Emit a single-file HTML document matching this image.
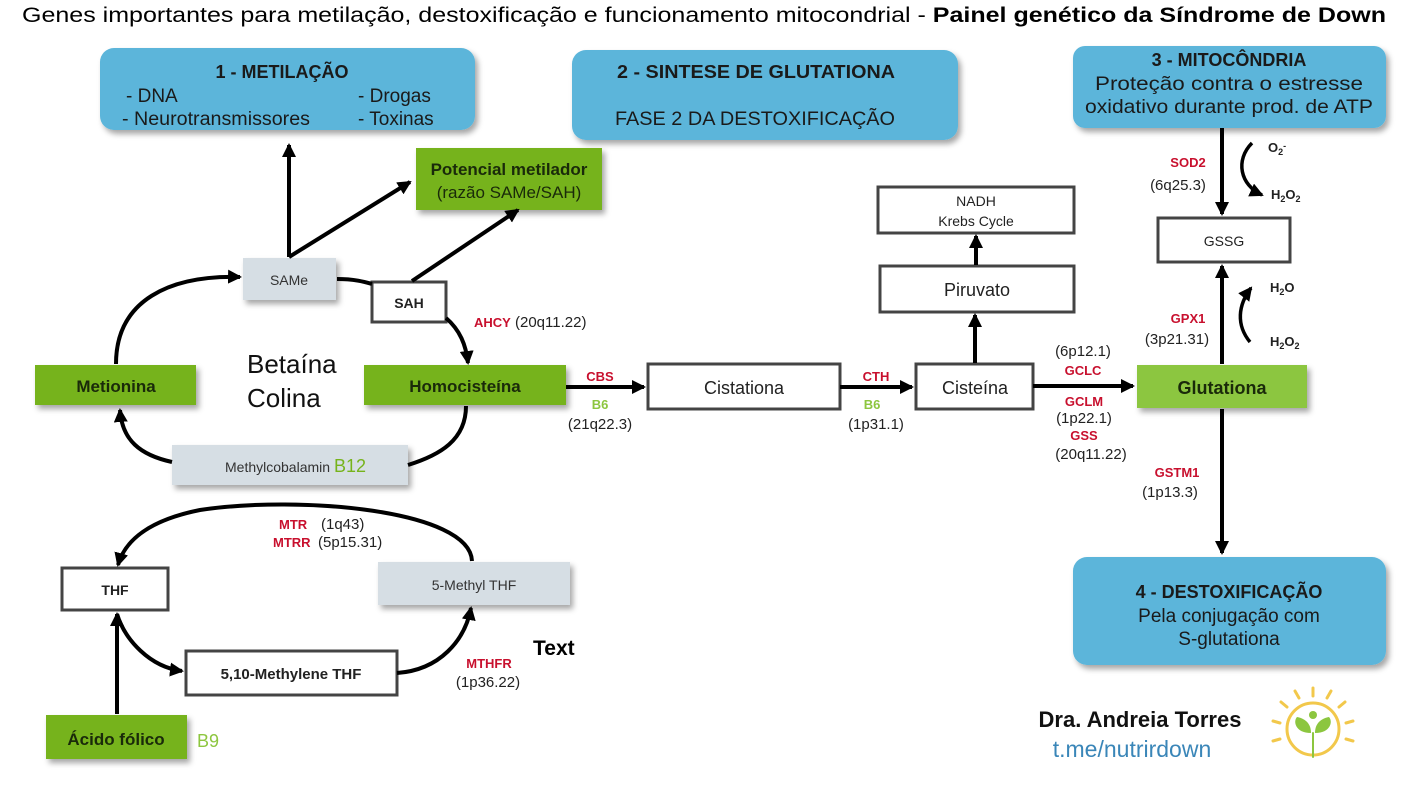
<!DOCTYPE html>
<html><head><meta charset="utf-8"><style>
html,body{margin:0;padding:0;background:#fff;}
svg{display:block;font-family:"Liberation Sans",sans-serif;}
.r{fill:#c8102e;font-weight:bold;font-size:13px;}
.g{fill:#8dc63f;font-weight:bold;font-size:13px;}
.k{fill:#222;font-size:15px;}
</style></head><body>
<svg width="1402" height="785" viewBox="0 0 1402 785" xmlns="http://www.w3.org/2000/svg">
<defs>
<marker id="b" markerWidth="14" markerHeight="14" refX="12" refY="7" orient="auto" markerUnits="userSpaceOnUse"><path d="M0,0 L14,7 L0,14 z" fill="#000"/></marker>
<filter id="s" x="-10%" y="-10%" width="130%" height="140%"><feDropShadow dx="3" dy="4" stdDeviation="3" flood-color="#000" flood-opacity="0.35"/></filter>
</defs>
<text x="22" y="22" font-size="21" fill="#000" textLength="1364" lengthAdjust="spacingAndGlyphs">Genes importantes para metilação, destoxificação e funcionamento mitocondrial - <tspan font-weight="bold">Painel genético da Síndrome de Down</tspan></text>

<g fill="#5bb5da" filter="url(#s)">
<rect x="100" y="48" width="375" height="82" rx="14"/>
<rect x="572" y="50" width="386" height="90" rx="14"/>
<rect x="1073" y="46" width="313" height="82" rx="12"/>
<rect x="1073" y="557" width="313" height="108" rx="14"/>
</g>
<g fill="#1a1a1a" font-size="19">
<text x="282" y="78" text-anchor="middle" font-weight="bold" font-size="18">1 - METILAÇÃO</text>
<text x="126" y="102">- DNA</text><text x="122" y="125" textLength="188" lengthAdjust="spacingAndGlyphs">- Neurotransmissores</text>
<text x="358" y="102">- Drogas</text><text x="358" y="125">- Toxinas</text>
<text x="756" y="78" text-anchor="middle" font-weight="bold" font-size="18" textLength="278" lengthAdjust="spacingAndGlyphs">2 - SINTESE DE GLUTATIONA</text>
<text x="755" y="125" text-anchor="middle" textLength="280" lengthAdjust="spacingAndGlyphs">FASE 2 DA DESTOXIFICAÇÃO</text>
<text x="1229" y="66" text-anchor="middle" font-weight="bold" font-size="18">3 - MITOCÔNDRIA</text>
<text x="1229" y="90" text-anchor="middle" textLength="268" lengthAdjust="spacingAndGlyphs">Proteção contra o estresse</text>
<text x="1229" y="113" text-anchor="middle" textLength="288" lengthAdjust="spacingAndGlyphs">oxidativo durante prod. de ATP</text>
<text x="1229" y="598" text-anchor="middle" font-weight="bold" font-size="18">4 - DESTOXIFICAÇÃO</text>
<text x="1229" y="622" text-anchor="middle">Pela conjugação com</text>
<text x="1229" y="645" text-anchor="middle">S-glutationa</text>
</g>

<g fill="#76b31b" filter="url(#s)">
<rect x="416" y="148" width="186" height="62"/>
<rect x="35" y="365" width="161" height="40"/>
<rect x="364" y="365" width="202" height="40"/>
<rect x="46" y="715" width="141" height="44"/>
</g>
<rect x="1137" y="365" width="170" height="43" fill="#8cc63f" filter="url(#s)"/>
<g fill="#1a2a0a" font-weight="bold" font-size="17" text-anchor="middle">
<text x="509" y="175">Potencial metilador</text>
<text x="509" y="198" font-weight="normal">(razão SAMe/SAH)</text>
<text x="116" y="392">Metionina</text>
<text x="465" y="392">Homocisteína</text>
<text x="116" y="745">Ácido fólico</text>
<text x="1222" y="394" font-size="18">Glutationa</text>
</g>

<g fill="#d6dee4" filter="url(#s)">
<rect x="243" y="258" width="93" height="42"/>
<rect x="172" y="445" width="236" height="40"/>
<rect x="378" y="562" width="192" height="43"/>
</g>
<text x="289" y="285" text-anchor="middle" font-size="14" fill="#333">SAMe</text>
<text x="225" y="472" font-size="14" fill="#333">Methylcobalamin <tspan fill="#76b31b" font-size="18">B12</tspan></text>
<text x="474" y="590" text-anchor="middle" font-size="14" fill="#333">5-Methyl THF</text>

<g fill="#fff" stroke="#444" stroke-width="3">
<rect x="372" y="282" width="74" height="40"/>
<rect x="648" y="364" width="192" height="45"/>
<rect x="916" y="364" width="117" height="45"/>
<rect x="880" y="266" width="194" height="46"/>
<rect x="878" y="187" width="196" height="46"/>
<rect x="1158" y="218" width="132" height="44"/>
<rect x="62" y="568" width="106" height="42"/>
<rect x="186" y="651" width="211" height="44"/>
</g>
<g fill="#222" text-anchor="middle">
<text x="409" y="308" font-size="14" font-weight="bold">SAH</text>
<text x="744" y="394" font-size="18">Cistationa</text>
<text x="975" y="394" font-size="18">Cisteína</text>
<text x="977" y="296" font-size="18">Piruvato</text>
<text x="976" y="206" font-size="14">NADH</text>
<text x="976" y="226" font-size="14">Krebs Cycle</text>
<text x="1224" y="246" font-size="14">GSSG</text>
<text x="115" y="595" font-size="14" font-weight="bold">THF</text>
<text x="291" y="679" font-size="15" font-weight="bold">5,10-Methylene THF</text>
</g>

<g stroke="#000" stroke-width="4" fill="none">
<line x1="289" y1="257" x2="289" y2="145" marker-end="url(#b)"/>
<line x1="289" y1="257" x2="410" y2="182" marker-end="url(#b)"/>
<line x1="412" y1="281" x2="518" y2="210" marker-end="url(#b)"/>
<path d="M116,364 C116,300 170,275 240,277" marker-end="url(#b)"/>
<path d="M337,279 C355,279 365,282 372,284"/>
<path d="M446,318 C460,330 466,345 468,363" marker-end="url(#b)"/>
<path d="M466,406 C466,440 440,455 408,465"/>
<path d="M172,462 C140,455 122,440 120,410" marker-end="url(#b)"/>
<line x1="566" y1="387" x2="644" y2="387" marker-end="url(#b)"/>
<line x1="840" y1="387" x2="912" y2="387" marker-end="url(#b)"/>
<line x1="975" y1="363" x2="975" y2="315" marker-end="url(#b)"/>
<line x1="976" y1="265" x2="976" y2="236" marker-end="url(#b)"/>
<line x1="1033" y1="386" x2="1133" y2="386" marker-end="url(#b)"/>
<line x1="1222" y1="128" x2="1222" y2="214" marker-end="url(#b)"/>
<line x1="1222" y1="364" x2="1222" y2="266" marker-end="url(#b)"/>
<line x1="1222" y1="409" x2="1222" y2="553" marker-end="url(#b)"/>
<path d="M1252,143 C1235,160 1240,185 1262,195" stroke-width="3.5" marker-end="url(#b)"/>
<path d="M1250,342 C1236,325 1238,305 1251,288" stroke-width="3.5" marker-end="url(#b)"/>
<path d="M472,561 C470,510 300,495 200,510 C150,520 125,540 118,565" marker-end="url(#b)"/>
<line x1="117" y1="714" x2="117" y2="614" marker-end="url(#b)"/>
<path d="M117,614 C125,640 150,667 182,671" marker-end="url(#b)"/>
<path d="M397,673 C440,670 465,640 471,608" marker-end="url(#b)"/>
</g>

<text x="247" y="373" font-size="26" fill="#111">Betaína</text>
<text x="247" y="407" font-size="26" fill="#111">Colina</text>
<text x="474" y="327" class="r">AHCY</text><text x="515" y="327" class="k">(20q11.22)</text>
<text x="600" y="381" class="r" text-anchor="middle">CBS</text>
<text x="600" y="409" class="g" text-anchor="middle">B6</text>
<text x="600" y="429" class="k" text-anchor="middle">(21q22.3)</text>
<text x="876" y="381" class="r" text-anchor="middle">CTH</text>
<text x="872" y="409" class="g" text-anchor="middle">B6</text>
<text x="876" y="429" class="k" text-anchor="middle">(1p31.1)</text>
<text x="1083" y="356" class="k" text-anchor="middle">(6p12.1)</text>
<text x="1083" y="375" class="r" text-anchor="middle">GCLC</text>
<text x="1084" y="406" class="r" text-anchor="middle">GCLM</text>
<text x="1084" y="423" class="k" text-anchor="middle">(1p22.1)</text>
<text x="1084" y="440" class="r" text-anchor="middle">GSS</text>
<text x="1091" y="459" class="k" text-anchor="middle">(20q11.22)</text>
<text x="1188" y="167" class="r" text-anchor="middle">SOD2</text>
<text x="1178" y="190" class="k" text-anchor="middle">(6q25.3)</text>
<text x="1188" y="323" class="r" text-anchor="middle">GPX1</text>
<text x="1177" y="344" class="k" text-anchor="middle">(3p21.31)</text>
<text x="1177" y="477" class="r" text-anchor="middle">GSTM1</text>
<text x="1170" y="497" class="k" text-anchor="middle">(1p13.3)</text>
<g font-size="13" font-weight="bold" fill="#222">
<text x="1268" y="152">O<tspan font-size="9" dy="3">2</tspan><tspan dy="-6" font-size="9">-</tspan></text>
<text x="1271" y="199">H<tspan font-size="9" dy="3">2</tspan><tspan dy="-3">O</tspan><tspan font-size="9" dy="3">2</tspan></text>
<text x="1270" y="292">H<tspan font-size="9" dy="3">2</tspan><tspan dy="-3">O</tspan></text>
<text x="1270" y="346">H<tspan font-size="9" dy="3">2</tspan><tspan dy="-3">O</tspan><tspan font-size="9" dy="3">2</tspan></text>
</g>
<text x="279" y="529" class="r">MTR</text><text x="321" y="529" class="k">(1q43)</text>
<text x="273" y="547" class="r">MTRR</text><text x="318" y="547" class="k">(5p15.31)</text>
<text x="489" y="668" class="r" text-anchor="middle">MTHFR</text>
<text x="488" y="687" class="k" text-anchor="middle">(1p36.22)</text>
<text x="533" y="655" font-size="21" font-weight="bold" fill="#000">Text</text>
<text x="197" y="747" font-size="18" fill="#8dc63f">B9</text>

<text x="1140" y="727" text-anchor="middle" font-size="22" font-weight="bold" fill="#111">Dra. Andreia Torres</text>
<text x="1132" y="757" text-anchor="middle" font-size="23" fill="#3a86b8">t.me/nutrirdown</text>
<g transform="translate(1313,729)" stroke="#f2c84b" stroke-width="3" stroke-linecap="round" fill="none">
<circle r="26"/>
<line x1="0" y1="-33" x2="0" y2="-41"/><line x1="14" y1="-31" x2="18" y2="-38"/><line x1="-14" y1="-31" x2="-18" y2="-38"/>
<line x1="26" y1="-22" x2="32" y2="-27"/><line x1="-26" y1="-22" x2="-32" y2="-27"/>
<line x1="33" y1="-6" x2="40" y2="-8"/><line x1="-33" y1="-6" x2="-40" y2="-8"/>
<line x1="33" y1="10" x2="40" y2="12"/><line x1="-33" y1="10" x2="-40" y2="12"/>
<circle cx="0" cy="-14" r="4" fill="#8cc63f" stroke="none"/>
<path d="M-2,4 C-18,4 -20,-8 -16,-12 C-6,-10 -2,-4 -2,4z" fill="#8cc63f" stroke="none"/>
<path d="M2,4 C18,4 20,-8 16,-12 C6,-10 2,-4 2,4z" fill="#8cc63f" stroke="none"/>
<line x1="0" y1="4" x2="0" y2="28" stroke="#8cc63f" stroke-width="2"/>
</g>
</svg>
</body></html>
